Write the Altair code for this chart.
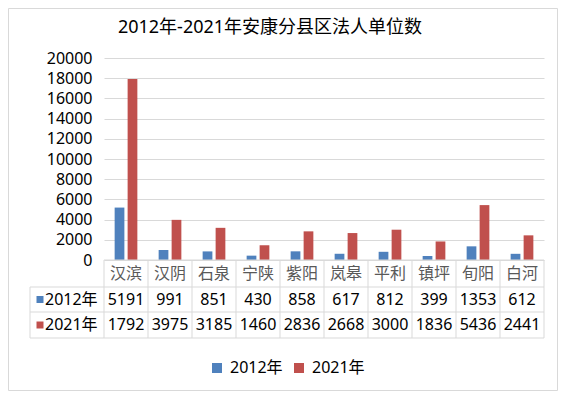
import altair as alt
import pandas as pd

categories = ["汉滨", "汉阴", "石泉", "宁陕", "紫阳", "岚皋", "平利", "镇坪", "旬阳", "白河"]
series = ["2012年", "2021年"]
values_2012 = [5191, 991, 851, 430, 858, 617, 812, 399, 1353, 612]
values_2021 = [17920, 3975, 3185, 1460, 2836, 2668, 3000, 1836, 5436, 2441]
y_ticks = [0, 2000, 4000, 6000, 8000, 10000, 12000, 14000, 16000, 18000, 20000]
colors = ["#4F81BD", "#C0504D"]
title_text = "2012年-2021年安康分县区法人单位数"

FONT = "Noto Sans, Noto Sans CJK SC, sans-serif"
W, H = 440, 202
GRID = "#D9D9D9"
ROW_CAT = 216
ROW_Y = {"2012年": 241.5, "2021年": 267}
LINE_Y = [202, 229, 254, 280]
LEFT = -74

rows = []
for s, vals in zip(series, [values_2012, values_2021]):
    for c, v in zip(categories, vals):
        rows.append({"category": c, "series": s, "value": v, "label": str(v)})
df = pd.DataFrame(rows)
cat_df = pd.DataFrame({"category": categories})

x_scale = alt.Scale(domain=categories, paddingInner=0, paddingOuter=0)
x_enc = alt.X("category:N", sort=categories, scale=x_scale, axis=None)

one = alt.Data(values=[{"a": 1}])

border = alt.Chart(one).mark_rect(fillOpacity=0, stroke=GRID, strokeWidth=1).encode(
    x=alt.value(-95.5), x2=alt.value(453.5), y=alt.value(-49.5), y2=alt.value(332.5)
)

title = alt.Chart(pd.DataFrame({"t": [title_text]})).mark_text(
    fontSize=18, font=FONT, color="#000", baseline="middle"
).encode(x=alt.value(166), y=alt.value(-30), text="t:N")

bars = alt.Chart(df).mark_bar().encode(
    x=x_enc,
    xOffset=alt.XOffset("series:N", sort=series,
                        scale=alt.Scale(domain=series, paddingInner=0.25, paddingOuter=0.82)),
    y=alt.Y("value:Q", scale=alt.Scale(domain=[0, 20000], nice=False),
            axis=alt.Axis(values=y_ticks, format="d", title=None, grid=True, gridColor=GRID,
                          domain=False, ticks=False, labelFontSize=16, labelFont=FONT,
                          labelColor="#000", labelPadding=12)),
    color=alt.Color("series:N", sort=series, scale=alt.Scale(domain=series, range=colors),
                    legend=alt.Legend(orient="none", legendX=105, legendY=302,
                                      direction="horizontal", title=None,
                                      symbolType="square", symbolSize=100,
                                      symbolStrokeWidth=0, labelFontSize=16,
                                      labelFont=FONT, labelColor="#000",
                                      columnPadding=8, labelOffset=5)),
)

layers = [border, title, bars]

# table horizontal lines
for i, ly in enumerate(LINE_Y):
    x0 = 0 if i == 0 else LEFT
    layers.append(alt.Chart(one).mark_rule(color=GRID, strokeWidth=1).encode(
        x=alt.value(x0), x2=alt.value(W), y=alt.value(ly)))

# table vertical lines
layers.append(alt.Chart(cat_df).mark_rule(color=GRID, strokeWidth=1).encode(
    x=alt.X("category:N", sort=categories, scale=x_scale, axis=None, bandPosition=0),
    y=alt.value(LINE_Y[0]), y2=alt.value(LINE_Y[3])))
layers.append(alt.Chart(one).mark_rule(color=GRID, strokeWidth=1).encode(
    x=alt.value(W), y=alt.value(LINE_Y[0]), y2=alt.value(LINE_Y[3])))
layers.append(alt.Chart(one).mark_rule(color=GRID, strokeWidth=1).encode(
    x=alt.value(LEFT), y=alt.value(LINE_Y[1]), y2=alt.value(LINE_Y[3])))

# category row
layers.append(alt.Chart(cat_df).mark_text(
    fontSize=16, font=FONT, color="#595959", baseline="middle").encode(
    x=x_enc, y=alt.value(ROW_CAT), text="category:N"))

for s, col in zip(series, colors):
    layers.append(alt.Chart(df).transform_filter(alt.datum.series == s).mark_text(
        fontSize=16, font=FONT, color="#000", baseline="middle", limit=42,
        ellipsis="\u200b").encode(
        x=x_enc, y=alt.value(ROW_Y[s]), text="label:N"))
    sdf = pd.DataFrame({"series": [s]})
    layers.append(alt.Chart(sdf).mark_square(size=49, filled=True, opacity=1, color=col).encode(
        x=alt.value(-64), y=alt.value(ROW_Y[s])))
    layers.append(alt.Chart(sdf).mark_text(
        fontSize=16, font=FONT, color="#000", baseline="middle", align="left").encode(
        x=alt.value(-59), y=alt.value(ROW_Y[s]), text="series:N"))

chart = alt.layer(*layers).properties(
    width=W, height=H,
    autosize=alt.AutoSizeParams(type="none"),
    padding={"left": 96, "top": 50, "right": 14, "bottom": 131},
).configure_view(stroke="transparent")

chart.save("out.html", embed_options={"renderer": "svg", "actions": False})
